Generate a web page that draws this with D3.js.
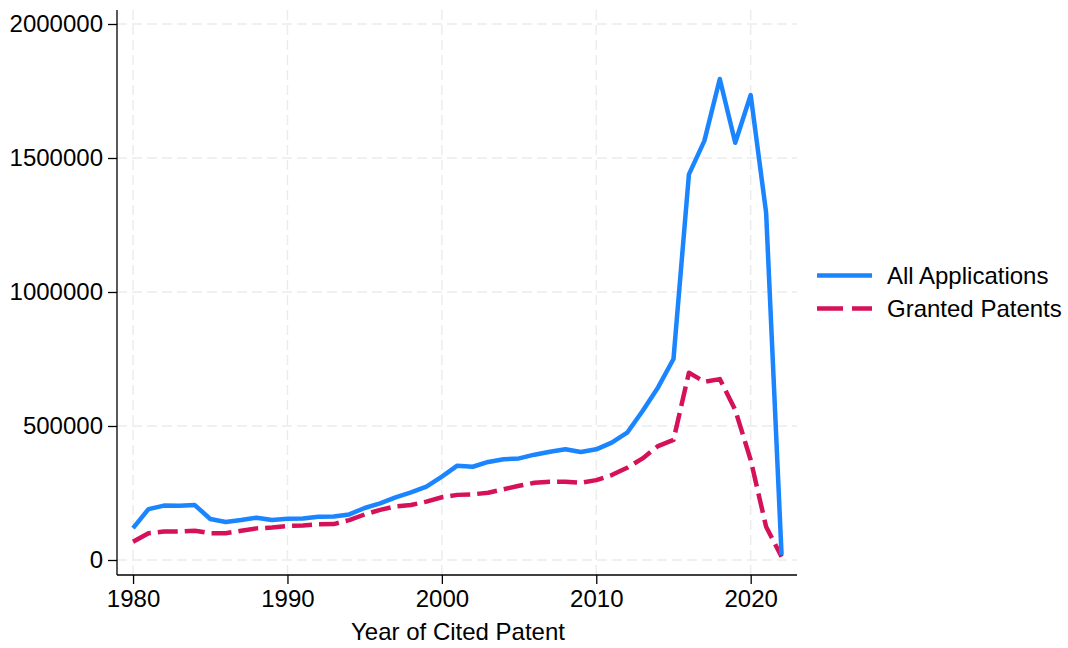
<!DOCTYPE html>
<html><head><meta charset="utf-8">
<script src="https://cdn.jsdelivr.net/npm/d3@7"></script>
<style>body{margin:0;background:#fff}svg{display:block}text{font-family:"Liberation Sans",Arial,sans-serif}</style>
</head><body><svg id="c" width="1068" height="648"></svg>
<script>
const years = d3.range(1980, 2023);
const allApplications = [119000,190000,203000,202000,205000,153000,142000,149000,158000,149000,154000,155000,161000,162000,170000,194000,211000,234000,252000,274000,311000,352000,348000,366000,376000,379000,393000,404000,413000,403000,413000,438000,475000,556000,644000,750000,1439000,1564000,1795000,1557000,1735000,1296000,19000];
const grantedPatents = [68000,100000,106000,106000,109000,100000,100000,109000,118000,121000,127000,129000,133000,134000,149000,170000,187000,200000,205000,218000,234000,243000,245000,251000,264000,277000,288000,292000,292000,288000,298000,317000,344000,379000,425000,448000,699000,665000,675000,560000,373000,124000,12000];
const xTicks = [1980,1990,2000,2010,2020];
const yTicks = [0,500000,1000000,1500000,2000000];
const seriesNames = ["All Applications","Granted Patents"];
const colors = ["#1a85ff","#d41159"];

const svg = d3.select("#c");
const x = d3.scaleLinear().domain([1978.96, 2023]).range([117, 797]);
const y = d3.scaleLinear().domain([0, 2000000]).range([560, 24]);
const yTop = 10, yBot = 575;
const FS = 24;

// grid
svg.append("g").selectAll("line").data(yTicks).join("line")
  .attr("x1",117).attr("x2",797).attr("y1",d=>y(d)).attr("y2",d=>y(d))
  .attr("stroke","#ececec").attr("stroke-width",1.5).attr("stroke-dasharray","10,5");
svg.append("g").selectAll("line").data(xTicks).join("line")
  .attr("y1",yTop).attr("y2",yBot).attr("x1",d=>x(d)).attr("x2",d=>x(d))
  .attr("stroke","#ececec").attr("stroke-width",1.5).attr("stroke-dasharray","10,5");

// axes
const yAxis = d3.axisLeft(y).tickValues(yTicks).tickSize(9).tickPadding(5).tickFormat(d3.format("d"));
const gy = svg.append("g").attr("transform","translate(117,0)").call(yAxis);
gy.select(".domain").attr("d",`M0,${yTop}V${yBot}`).attr("stroke","#000").attr("stroke-width",1.3);
gy.selectAll(".tick line").attr("stroke","#000").attr("stroke-width",1.3);
gy.selectAll(".tick text").attr("font-size",FS).attr("fill","#000").attr("font-family","Liberation Sans, Arial, sans-serif");

const xAxis = d3.axisBottom(x).tickValues(xTicks).tickSize(9).tickPadding(6).tickFormat(d3.format("d"));
const gx = svg.append("g").attr("transform",`translate(0,${yBot})`).call(xAxis);
gx.select(".domain").attr("d","M117,0H797").attr("stroke","#000").attr("stroke-width",1.3);
gx.selectAll(".tick line").attr("stroke","#000").attr("stroke-width",1.3);
gx.selectAll(".tick text").attr("font-size",FS).attr("fill","#000").attr("font-family","Liberation Sans, Arial, sans-serif");

svg.append("text").attr("x",458).attr("y",640).attr("text-anchor","middle")
  .attr("font-size",FS).text("Year of Cited Patent");

// lines
const line = d3.line().x((d,i)=>x(years[i])).y(d=>y(d));
svg.append("path").datum(grantedPatents).attr("d",line).attr("fill","none")
  .attr("stroke",colors[1]).attr("stroke-width",4.5).attr("stroke-dasharray","20,7").attr("stroke-linejoin","round");
svg.append("path").datum(allApplications).attr("d",line).attr("fill","none")
  .attr("stroke",colors[0]).attr("stroke-width",4.5).attr("stroke-linejoin","round");

// legend
const lg = svg.append("g");
[0,1].forEach(i=>{
  const yy = 275.5 + i*33;
  lg.append("line").attr("x1",817).attr("x2",872).attr("y1",yy).attr("y2",yy)
    .attr("stroke",colors[i]).attr("stroke-width",4.5).attr("stroke-dasharray", i? "26,9":null);
  lg.append("text").attr("x",887).attr("y",yy+8).attr("font-size",FS).text(seriesNames[i]);
});
</script></body></html>
